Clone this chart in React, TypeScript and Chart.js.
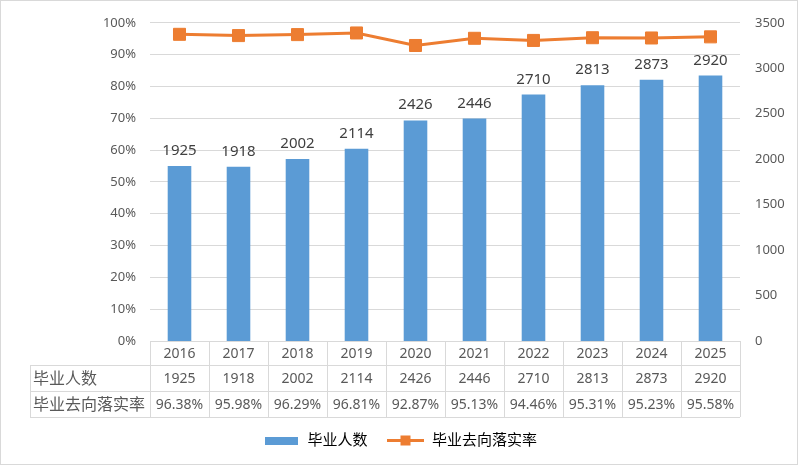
import React, { useEffect, useRef } from "react";
import { Chart, ChartConfiguration, registerables } from "chart.js";

Chart.register(...registerables);

const years = ["2016", "2017", "2018", "2019", "2020", "2021", "2022", "2023", "2024", "2025"];
const graduates = [1925, 1918, 2002, 2114, 2426, 2446, 2710, 2813, 2873, 2920];
const placementRates = [96.38, 95.98, 96.29, 96.81, 92.87, 95.13, 94.46, 95.31, 95.23, 95.58];
const rateTicks = [0, 10, 20, 30, 40, 50, 60, 70, 80, 90, 100];
const countTicks = [0, 500, 1000, 1500, 2000, 2500, 3000, 3500];
const barName = "毕业人数";
const lineName = "毕业去向落实率";

const BLUE = "#5B9BD5";
const ORANGE = "#ED7D31";
const GRID = "#d9d9d9";
const TEXT = "#595959";
const FONT = "'Noto Sans', 'Noto Sans CJK SC', sans-serif";

// values above the bars
const barLabels = {
    id: "barLabels",
    afterDatasetsDraw(chart: Chart) {
        const ctx = chart.ctx;
        const meta = chart.getDatasetMeta(0);
        ctx.save();
        ctx.font = `15px ${FONT}`;
        ctx.fillStyle = "#404040";
        ctx.textAlign = "center";
        ctx.textBaseline = "alphabetic";
        meta.data.forEach((bar: any, i: number) => {
            ctx.fillText(String(graduates[i]), bar.x, bar.y - 11);
        });
        ctx.restore();
    },
};

// excel style data table under the plot
const dataTable = {
    id: "dataTable",
    afterDraw(chart: Chart) {
        const { ctx, chartArea } = chart;
        const xScale = chart.scales.x;
        const n = years.length;
        const left = chartArea.left;
        const right = chartArea.right;
        const colW = (right - left) / n;
        const labelLeft = 30;
        const y0 = chartArea.bottom;
        const y1 = y0 + 24;
        const y2 = y1 + 26;
        const y3 = y2 + 26;

        ctx.save();
        ctx.strokeStyle = GRID;
        ctx.lineWidth = 1;
        ctx.beginPath();
        // horizontal lines
        ctx.moveTo(labelLeft, y1 + 0.5);
        ctx.lineTo(right, y1 + 0.5);
        ctx.moveTo(labelLeft, y2 + 0.5);
        ctx.lineTo(right, y2 + 0.5);
        ctx.moveTo(labelLeft, y3 + 0.5);
        ctx.lineTo(right, y3 + 0.5);
        // vertical lines
        ctx.moveTo(labelLeft + 0.5, y1);
        ctx.lineTo(labelLeft + 0.5, y3);
        for (let i = 0; i <= n; i++) {
            const x = Math.round(left + i * colW) + 0.5;
            ctx.moveTo(x, y0);
            ctx.lineTo(x, y3);
        }
        ctx.stroke();

        ctx.fillStyle = TEXT;
        ctx.textBaseline = "middle";
        ctx.textAlign = "center";
        ctx.font = `14px ${FONT}`;
        years.forEach((yr, i) => {
            const cx = xScale.getPixelForValue(i);
            ctx.fillText(yr, cx, (y0 + y1) / 2 + 1);
            ctx.fillText(String(graduates[i]), cx, (y1 + y2) / 2 + 1);
            ctx.fillText(placementRates[i].toFixed(2) + "%", cx, (y2 + y3) / 2 + 1);
        });

        ctx.textAlign = "left";
        ctx.font = `16px ${FONT}`;
        ctx.fillText(barName, labelLeft + 3, (y1 + y2) / 2 + 1);
        ctx.fillText(lineName, labelLeft + 3, (y2 + y3) / 2 + 1);
        ctx.restore();
    },
};

function makeBarSwatch(): HTMLCanvasElement {
    const c = document.createElement("canvas");
    c.width = 33;
    c.height = 8;
    const g = c.getContext("2d")!;
    g.fillStyle = BLUE;
    g.fillRect(0, 0, 33, 8);
    return c;
}

function makeLineSwatch(): HTMLCanvasElement {
    const c = document.createElement("canvas");
    c.width = 37;
    c.height = 11;
    const g = c.getContext("2d")!;
    g.strokeStyle = ORANGE;
    g.lineWidth = 3;
    g.beginPath();
    g.moveTo(0, 5.5);
    g.lineTo(37, 5.5);
    g.stroke();
    g.fillStyle = ORANGE;
    g.fillRect(13, 0.5, 10, 10);
    return c;
}

const App: React.FC = () => {
    const chartRef = useRef<HTMLCanvasElement>(null);
    const chartInstance = useRef<Chart | null>(null);

    useEffect(() => {
        document.body.style.margin = "0";
        if (!chartRef.current) return;
        const ctx = chartRef.current.getContext("2d");
        if (!ctx) return;
        if (chartInstance.current) chartInstance.current.destroy();

        const barSwatch = makeBarSwatch();
        const lineSwatch = makeLineSwatch();

        const config: ChartConfiguration = {
            type: "bar",
            data: {
                labels: years,
                datasets: [
                    {
                        type: "bar",
                        label: barName,
                        data: graduates,
                        yAxisID: "y1",
                        backgroundColor: BLUE,
                        barPercentage: 0.4,
                        categoryPercentage: 1,
                        order: 2,
                    },
                    {
                        type: "line",
                        label: lineName,
                        data: placementRates,
                        yAxisID: "y",
                        borderColor: ORANGE,
                        backgroundColor: ORANGE,
                        borderWidth: 3,
                        pointStyle: "rect",
                        pointRadius: 8.5,
                        pointBorderWidth: 1,
                        pointBackgroundColor: ORANGE,
                        pointBorderColor: ORANGE,
                        tension: 0,
                        order: 1,
                    } as any,
                ],
            },
            options: {
                responsive: false,
                animation: false,
                layout: { padding: { top: 20, bottom: 8, left: 0, right: 0 } },
                scales: {
                    x: {
                        offset: true,
                        grid: { display: false },
                        border: { display: false },
                        ticks: { display: false },
                        afterFit: (scale: any) => {
                            scale.height = 72;
                        },
                    },
                    y: {
                        position: "left",
                        min: 0,
                        max: 100,
                        afterBuildTicks: (scale: any) => {
                            scale.ticks = rateTicks.map((v) => ({ value: v }));
                        },
                        afterFit: (scale: any) => {
                            scale.width = 150;
                        },
                        grid: { color: GRID, drawTicks: false },
                        border: { display: false },
                        ticks: {
                            padding: 14,
                            color: TEXT,
                            font: { size: 13, family: FONT },
                            callback: (v: any) => v + "%",
                        },
                    },
                    y1: {
                        position: "right",
                        min: 0,
                        max: 3500,
                        afterBuildTicks: (scale: any) => {
                            scale.ticks = countTicks.map((v) => ({ value: v }));
                        },
                        afterFit: (scale: any) => {
                            scale.width = 60;
                        },
                        grid: { display: false, drawTicks: false },
                        border: { display: false },
                        ticks: {
                            padding: 15,
                            color: TEXT,
                            font: { size: 13, family: FONT },
                            callback: (v: any) => String(v),
                        },
                    },
                },
                plugins: {
                    tooltip: { enabled: false },
                    legend: {
                        position: "bottom",
                        labels: {
                            usePointStyle: true,
                            pointStyleWidth: 37,
                            padding: 20,
                            color: TEXT,
                            font: { size: 15, family: FONT },
                            generateLabels: () => [
                                {
                                    text: barName,
                                    pointStyle: barSwatch,
                                    fillStyle: BLUE,
                                    strokeStyle: BLUE,
                                    lineWidth: 0,
                                    hidden: false,
                                    datasetIndex: 0,
                                },
                                {
                                    text: lineName,
                                    pointStyle: lineSwatch,
                                    fillStyle: ORANGE,
                                    strokeStyle: ORANGE,
                                    lineWidth: 0,
                                    hidden: false,
                                    datasetIndex: 1,
                                },
                            ],
                        },
                    },
                },
            },
            plugins: [barLabels, dataTable],
        };

        chartInstance.current = new Chart(ctx, config);

        return () => {
            if (chartInstance.current) {
                chartInstance.current.destroy();
                chartInstance.current = null;
            }
        };
    }, []);

    return (
        <div style={{ position: "relative", width: 800, height: 466, background: "#fff" }}>
            <canvas ref={chartRef} width={800} height={466} />
            <div
                style={{
                    position: "absolute",
                    left: 0,
                    top: 0,
                    width: 798,
                    height: 465,
                    boxSizing: "border-box",
                    border: "1px solid #d9d9d9",
                    pointerEvents: "none",
                }}
            />
        </div>
    );
};

export default App;
